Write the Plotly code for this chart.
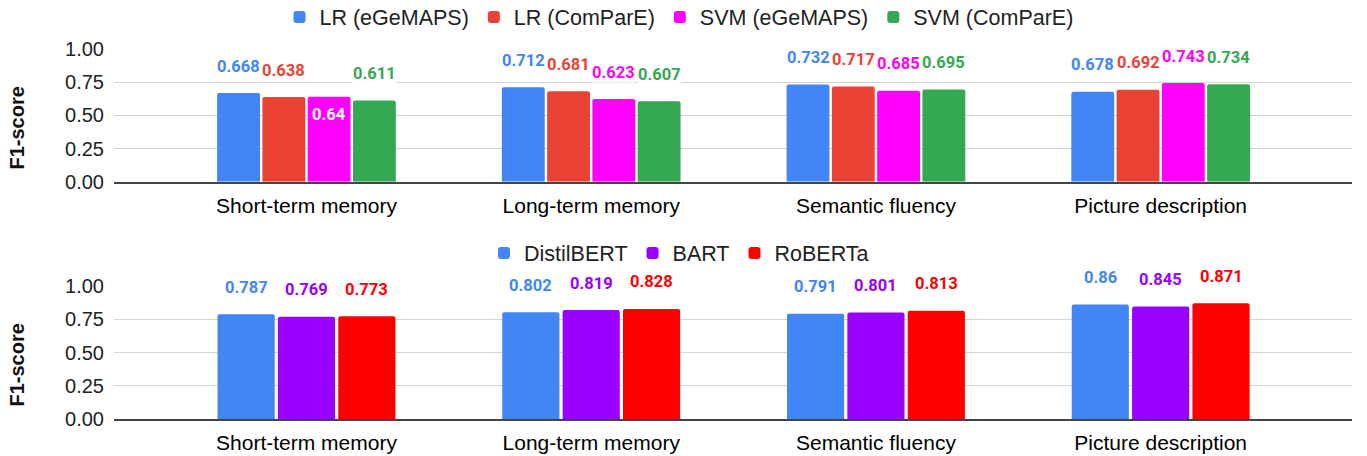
import plotly.graph_objects as go

# ---------------- data ----------------
categories = ["Short-term memory", "Long-term memory", "Semantic fluency", "Picture description"]

top_names = ["LR (eGeMAPS)", "LR (ComParE)", "SVM (eGeMAPS)", "SVM (ComParE)"]
lr_egemaps = [0.668, 0.712, 0.732, 0.678]
lr_compare = [0.638, 0.681, 0.717, 0.692]
svm_egemaps = [0.64, 0.623, 0.685, 0.743]
svm_compare = [0.611, 0.607, 0.695, 0.734]
top_values = [lr_egemaps, lr_compare, svm_egemaps, svm_compare]
top_colors = ["#4285F4", "#EA4335", "#FF00FF", "#34A853"]

bottom_names = ["DistilBERT", "BART", "RoBERTa"]
distilbert = [0.787, 0.802, 0.791, 0.86]
bart = [0.769, 0.819, 0.801, 0.845]
roberta = [0.773, 0.828, 0.813, 0.871]
bottom_values = [distilbert, bart, roberta]
bottom_colors = ["#4285F4", "#9900FF", "#FF0000"]

y_ticks = [0, 0.25, 0.5, 0.75, 1.0]
y_title = "F1-score"

# label drawn inside its bar (in white) in the original
inside_labels = {("SVM (eGeMAPS)", "Short-term memory")}

# ---------------- layout constants ----------------
W, H = 1367, 456
BARGAP = 0.364
GROUPGAP = 0.053
TICK_FONT = dict(family="Liberation Sans, Arial, sans-serif", size=20, color="#222222")
CAT_FONT = dict(family="Liberation Sans, Arial, sans-serif", size=21, color="#000000")
LEG_FONT = dict(family="Liberation Sans, Arial, sans-serif", size=21.5, color="#222222")
LABEL_FONT_FAMILY = "Roboto, Liberation Sans, sans-serif"

x_dom = [114 / W, 1352 / W]
top_dom = [1 - 181.7 / H, 1 - 49 / H]
bot_dom = [1 - 419 / H, 1 - 286 / H]
x_range = [-0.676, 3.672]
legend_x = 679 / W

fig = go.Figure()
annotations = []


def add_panel(names, values, colors, xa, ya, legend):
    n = len(names)
    slot = (1 - BARGAP) / n
    for i, (name, vals, col) in enumerate(zip(names, values, colors)):
        fig.add_trace(go.Bar(
            x=categories, y=vals, name=name, marker=dict(color=col, line=dict(width=0)),
            xaxis=xa, yaxis=ya, legend=legend, hoverinfo="x+y+name",
        ))
        offset = -(1 - BARGAP) / 2 + slot * (i + 0.5)
        for ci, (cat, v) in enumerate(zip(categories, vals)):
            inside = (name, cat) in inside_labels
            annotations.append(dict(
                x=ci + offset, y=v, xref=xa, yref=ya,
                text=f"<b>{v:g}</b>", showarrow=False,
                font=dict(family=LABEL_FONT_FAMILY, size=16.5, color="white" if inside else col),
                yshift=-18 if inside else 27,
                bgcolor=None if inside else "white", borderpad=0,
            ))


add_panel(top_names, top_values, top_colors, "x", "y", "legend")
add_panel(bottom_names, bottom_values, bottom_colors, "x2", "y2", "legend2")

for yc in [1 - 128 / H, 1 - 365 / H]:
    annotations.append(dict(
        x=16.5 / W, y=yc, xref="paper", yref="paper", text=f"<b>{y_title}</b>",
        textangle=-90, showarrow=False, xanchor="center", yanchor="middle",
        font=dict(family="Liberation Sans, Arial, sans-serif", size=20, color="#111111"),
    ))

xcommon = dict(type="category", range=x_range, showgrid=False, showline=True,
               linecolor="#444444", linewidth=1.5, ticks="", tickfont=CAT_FONT,
               ticklabelstandoff=4, fixedrange=True, domain=x_dom, automargin=False)
ycommon = dict(range=[0, 1.0], tickvals=y_ticks, tickformat=".2f", showgrid=True,
               gridcolor="#d4d4d4", gridwidth=1, zeroline=False, showline=False,
               ticks="", tickfont=TICK_FONT, ticklabelstandoff=9, fixedrange=True,
               automargin=False)

fig.update_layout(
    width=W, height=H,
    margin=dict(l=0, r=0, t=0, b=0, autoexpand=False),
    paper_bgcolor="white", plot_bgcolor="white",
    barmode="group", bargap=BARGAP, bargroupgap=GROUPGAP, barcornerradius=2,
    xaxis=dict(anchor="y", **xcommon),
    yaxis=dict(anchor="x", domain=top_dom, **ycommon),
    xaxis2=dict(anchor="y2", **xcommon),
    yaxis2=dict(anchor="x2", domain=bot_dom, **ycommon),
    legend=dict(orientation="h", x=legend_x, xanchor="center", y=1 - 17 / H, yanchor="middle",
                font=LEG_FONT, bgcolor="rgba(0,0,0,0)"),
    legend2=dict(orientation="h", x=legend_x, xanchor="center", y=1 - 253 / H, yanchor="middle",
                 font=LEG_FONT, bgcolor="rgba(0,0,0,0)"),
    annotations=annotations,
    showlegend=True,
)

fig.write_html("out.html", config={"displayModeBar": False},
               post_script="document.body.style.margin='0';")
